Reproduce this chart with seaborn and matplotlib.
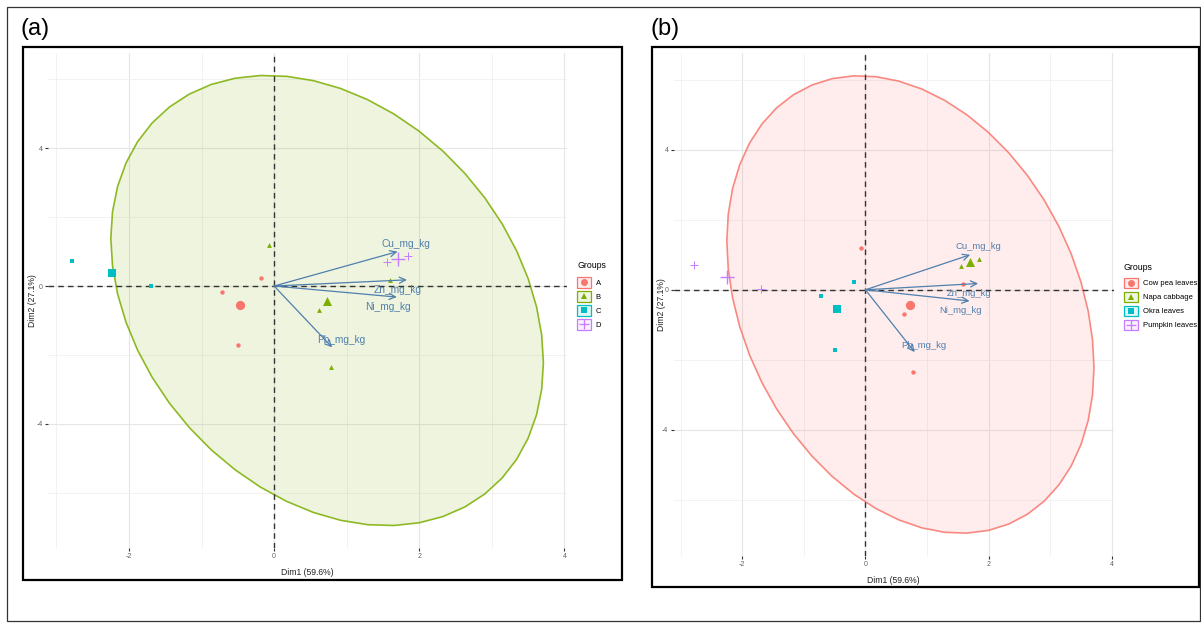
import numpy as np
import pandas as pd
import matplotlib
matplotlib.use("Agg")
import matplotlib.pyplot as plt
import seaborn as sns
from matplotlib.patches import Polygon, Rectangle
from matplotlib.lines import Line2D
from matplotlib.ticker import MultipleLocator

# ---- PCA individual coordinates (one row per sample) ----
dim1 = [-0.18, -0.72, -0.50, -0.07, 0.62, 0.78, 1.59, -2.79, -1.69, 1.55, 1.85]
dim2 = [0.22, -0.17, -1.71, 1.19, -0.70, -2.34, 0.17, 0.72, 0.01, 0.69, 0.87]
sample_group = ["A", "A", "A", "B", "B", "B", "B", "C", "C", "D", "D"]

# group codes and the crop each code stands for
group_codes = ["A", "B", "C", "D"]
crop_names = ["Okra leaves", "Cow pea leaves", "Pumpkin leaves", "Napa cabbage"]

# ---- variable loadings (biplot arrows) ----
var_names = ["Cu_mg_kg", "Zn_mg_kg", "Ni_mg_kg", "Pb_mg_kg"]
var_dim1 = [1.70, 1.83, 1.69, 0.80]
var_dim2 = [1.00, 0.18, -0.32, -1.78]

x_title = "Dim1 (59.6%)"
y_title = "Dim2 (27.1%)"
legend_title = "Groups"
panel_tags = ["(a)", "(b)"]

# ---- styling ----
palette = ["#F8766D", "#7CAE00", "#00BFC4", "#C77CFF"]
shapes = ["o", "^", "s", "+"]
small_size = {"o": 10, "^": 12, "s": 9, "+": 30}
big_size = {"o": 44, "^": 42, "s": 30, "+": 95}
label_offsets = {"Cu_mg_kg": (8, 8), "Zn_mg_kg": (-9, -10),
                 "Ni_mg_kg": (-9, -10), "Pb_mg_kg": (9, 7)}
arrow_col = "#4F7FAE"

plt.rcParams["font.family"] = ["Liberation Sans", "DejaVu Sans"]
plt.rcParams["axes.unicode_minus"] = False

W, H = 1201, 623
fig = plt.figure(figsize=(W / 100, H / 100), dpi=100)


def px_axes(left, top, right, bottom):
    return fig.add_axes([left / W, 1 - bottom / H, (right - left) / W, (bottom - top) / H])


def norm_ellipse(x, y, level=0.95, segments=51):
    """Normal-theory confidence ellipse as drawn by ggplot2's stat_ellipse(type='norm')."""
    x = np.asarray(x, float)
    y = np.asarray(y, float)
    m = len(x) - 1
    fq = (m / 2) * ((1 - level) ** (-2 / m) - 1)  # F(level; 2, m) quantile
    radius = np.sqrt(2 * fq)
    chol = np.linalg.cholesky(np.cov(x, y))
    t = np.linspace(0, 2 * np.pi, segments)
    circle = np.column_stack([np.cos(t), np.sin(t)])
    return np.array([x.mean(), y.mean()]) + radius * circle @ chol.T


class LegendKey:
    def __init__(self, color, marker):
        self.color = color
        self.marker = marker


class KeyHandler:
    """Filled square key with the group's marker centred inside it."""

    def legend_artist(self, legend, orig_handle, fontsize, handlebox):
        x0, y0 = -handlebox.xdescent, -handlebox.ydescent
        w, h = handlebox.width, handlebox.height
        c = orig_handle.color
        m = orig_handle.marker
        tr = handlebox.get_transform()
        box = Rectangle((x0, y0), w, h, facecolor=matplotlib.colors.to_rgba(c, 0.12),
                        edgecolor=c, lw=0.9, transform=tr)
        dot = Line2D([x0 + w / 2], [y0 + h / 2], ls="none", marker=m, color=c,
                     markersize=5 if m != "+" else 7, mew=0.9 if m == "+" else 0,
                     transform=tr)
        handlebox.add_artist(box)
        handlebox.add_artist(dot)
        return box


base = pd.DataFrame({"Dim1": dim1, "Dim2": dim2, "code": sample_group})


def draw_panel(ax, labels, text_size, ylabel_px):
    code_to_label = dict(zip(group_codes, labels))
    df = base.assign(grp=base["code"].map(code_to_label))
    levels = sorted(labels)
    colors = dict(zip(levels, palette))
    marks = dict(zip(levels, shapes))

    # ellipses for groups with enough samples
    ell_pts = []
    for g in levels:
        sub = df[df["grp"] == g]
        if len(sub) > 3:
            pts = norm_ellipse(sub["Dim1"], sub["Dim2"])
            ell_pts.append(pts)
            ax.add_patch(Polygon(pts, closed=True, facecolor=colors[g], alpha=0.13,
                                 edgecolor="none", zorder=1))
            ax.add_patch(Polygon(pts, closed=True, facecolor="none",
                                 edgecolor=colors[g], lw=1.2, alpha=0.85, zorder=1.5))

    allx = np.concatenate([df["Dim1"].values] + [p[:, 0] for p in ell_pts])
    ally = np.concatenate([df["Dim2"].values] + [p[:, 1] for p in ell_pts])
    px = 0.05 * (allx.max() - allx.min())
    py = 0.05 * (ally.max() - ally.min())
    ax.set_xlim(allx.min() - px, allx.max() + px)
    ax.set_ylim(ally.min() - py, ally.max() + py)

    ax.axhline(0, color="#333333", lw=1.0, ls=(0, (4, 3)), zorder=2)
    ax.axvline(0, color="#333333", lw=1.0, ls=(0, (4, 3)), zorder=2)

    # individual samples and group means
    means = df.groupby("grp")[["Dim1", "Dim2"]].mean()
    for g in levels:
        sub = df[df["grp"] == g]
        m = marks[g]
        lw = 0.7 if m == "+" else 0
        sns.scatterplot(data=sub, x="Dim1", y="Dim2", marker=m, color=colors[g],
                        s=small_size[m], linewidth=lw, ax=ax, zorder=3, legend=False)
        sns.scatterplot(x=[means.loc[g, "Dim1"]], y=[means.loc[g, "Dim2"]], marker=m,
                        color=colors[g], s=big_size[m], linewidth=(1.0 if m == "+" else 0),
                        ax=ax, zorder=3, legend=False)

    # variable arrows
    for name, vx, vy in zip(var_names, var_dim1, var_dim2):
        ax.annotate("", xy=(vx, vy), xytext=(0, 0),
                    arrowprops=dict(arrowstyle="->,head_length=0.45,head_width=0.22",
                                    color=arrow_col, lw=0.9, shrinkA=0, shrinkB=0),
                    zorder=4)
        ax.annotate(name, xy=(vx, vy), xytext=label_offsets[name],
                    textcoords="offset pixels", ha="center", va="center",
                    color=arrow_col, fontsize=text_size, zorder=5)

    ax.xaxis.set_major_locator(MultipleLocator(2))
    ax.xaxis.set_minor_locator(MultipleLocator(2, offset=1))
    ax.yaxis.set_major_locator(MultipleLocator(4))
    ax.yaxis.set_minor_locator(MultipleLocator(4, offset=2))
    ax.grid(which="major", color="#E6E6E6", lw=0.8, zorder=0)
    ax.grid(which="minor", color="#F0F0F0", lw=0.6, zorder=0)
    ax.set_axisbelow(True)
    for s in ax.spines.values():
        s.set_visible(False)
    ax.tick_params(which="major", length=2.2, width=0.8, color="#333333",
                   labelsize=5, labelcolor="#606060", pad=1.5)
    ax.tick_params(which="minor", length=0)
    ax.set_xlabel(x_title, fontsize=6.2, color="#222222")
    ax.set_ylabel(y_title, fontsize=6.2, color="#222222")
    bb = ax.get_position()
    ax_w_px = bb.width * W
    ax_h_px = bb.height * H
    ax.xaxis.set_label_coords(0.5, -20 / ax_h_px)
    ax.yaxis.set_label_coords(-ylabel_px / ax_w_px, 0.5)

    handles = [LegendKey(colors[g], marks[g]) for g in levels]
    return handles, levels


# outer frame and panel boxes
fig.add_artist(Rectangle((7 / W, 1 - 621 / H), 1193 / W, 614 / H, transform=fig.transFigure,
                         fill=False, edgecolor="#333333", lw=0.9))
for (l, t, r, b) in [(23, 47, 622, 580), (652, 47, 1199, 587)]:
    fig.add_artist(Rectangle((l / W, 1 - b / H), (r - l) / W, (b - t) / H,
                             transform=fig.transFigure, fill=False, edgecolor="black", lw=1.6))

fig.text(21 / W, 1 - 29 / H, panel_tags[0], fontsize=17, va="center", ha="left")
fig.text(651 / W, 1 - 29 / H, panel_tags[1], fontsize=17, va="center", ha="left")

ax_a = px_axes(48, 53, 567, 548)
ax_b = px_axes(673.5, 53, 1114, 556)

h_a, lv_a = draw_panel(ax_a, group_codes, 7.3, 11)
h_b, lv_b = draw_panel(ax_b, crop_names, 6.8, 7.5)

leg_kw = dict(loc="upper left", bbox_transform=fig.transFigure, frameon=False,
              handler_map={LegendKey: KeyHandler()}, fontsize=5.5,
              title_fontsize=6.3, handlelength=1.8, handleheight=1.8,
              labelspacing=0.42, handletextpad=0.65, borderpad=0, borderaxespad=0)
leg_a = fig.legend(h_a, lv_a, title=legend_title, bbox_to_anchor=(577 / W, 1 - 261 / H), **leg_kw)
leg_a._legend_box.align = "left"
leg_a._legend_box.sep = 5
leg_b = fig.legend(h_b, lv_b, title=legend_title, bbox_to_anchor=(1124 / W, 1 - 263 / H), **leg_kw)
leg_b._legend_box.align = "left"
leg_b._legend_box.sep = 4

fig.savefig("out.png", dpi=100)
